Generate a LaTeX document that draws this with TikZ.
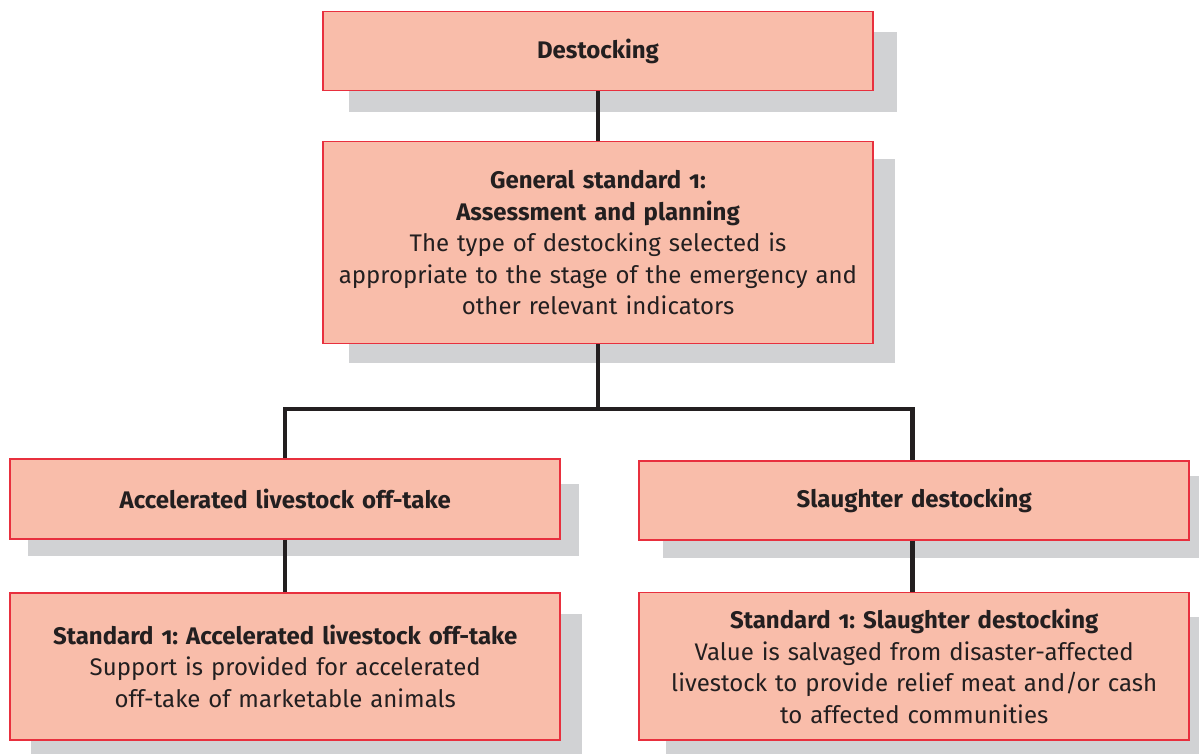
\documentclass[tikz,border=0pt]{standalone}
\usepackage{fontspec}
\setmainfont[Numbers=OldStyle]{Fira Sans}
\frenchspacing
\definecolor{boxfill}{HTML}{F9BDAA}
\definecolor{boxline}{HTML}{E8303E}
\definecolor{shade}{HTML}{D1D2D4}
\definecolor{ink}{HTML}{231F20}
\begin{document}
\begin{tikzpicture}[x=1pt,y=-1pt,
  box/.style={draw=boxline, line width=1.5pt, fill=boxfill, text=ink,
    minimum width=550pt, text width=545pt, align=center, inner sep=0pt,
    font=\fontsize{24}{31.5}\selectfont},
  shadowbox/.style={fill=shade},
  link/.style={draw=ink, line width=4.5pt}]
\useasboundingbox (0,0) rectangle (1199,753);
% shadows
\fill[shadowbox] (349,32) rectangle (897,111.7);
\fill[shadowbox] (349,159) rectangle (894.5,363);
\fill[shadowbox] (28,483.7) rectangle (579,555.7);
\fill[shadowbox] (31,614) rectangle (582,760);
\fill[shadowbox] (663,476) rectangle (1205,557.7);
\fill[shadowbox] (666,617) rectangle (1205,760);
% connector junctions
\coordinate (split) at (598,409);
\coordinate (lcorner) at (285,409);
\coordinate (rcorner) at (912.5,409);
% boxes
\node[box, minimum height=79pt] (top) at (598,51.2)
  {\textbf{Destocking}};
\node[box, minimum height=201.8pt] (mid) at (598,242.6)
  {\textbf{General standard 1:}\\
   \textbf{Assessment and planning}\\
   The type of destocking selected is\\
   appropriate to the stage of the emergency and\\
   other relevant indicators};
\node[box, minimum height=80pt] (l2) at (285.2,499)
  {\textbf{Accelerated livestock off-take}};
\node[box, minimum height=147.3pt] (l3) at (285.2,666.4)
  {\textbf{Standard 1: Accelerated livestock off-take}\\
   Support is provided for accelerated\\
   off-take of marketable animals};
\node[box, minimum height=79.3pt] (r2) at (914.2,500.4)
  {\textbf{Slaughter destocking}};
\node[box, minimum height=147.7pt] (r3) at (914.2,666.2)
  {\textbf{Standard 1: Slaughter destocking}\\
   Value is salvaged from disaster-affected\\
   livestock to provide relief meat and/or cash\\
   to affected communities};
% connectors
\draw[link] (top.south) -- (mid.north);
\draw[link] (mid.south) -- (split);
\draw[link] (lcorner |- l2.north) -- (lcorner) -- (rcorner) -- (rcorner |- r2.north);
\draw[link] (lcorner |- l2.south) -- (lcorner |- l3.north);
\draw[link] (rcorner |- r2.south) -- (rcorner |- r3.north);
\end{tikzpicture}
\end{document}
